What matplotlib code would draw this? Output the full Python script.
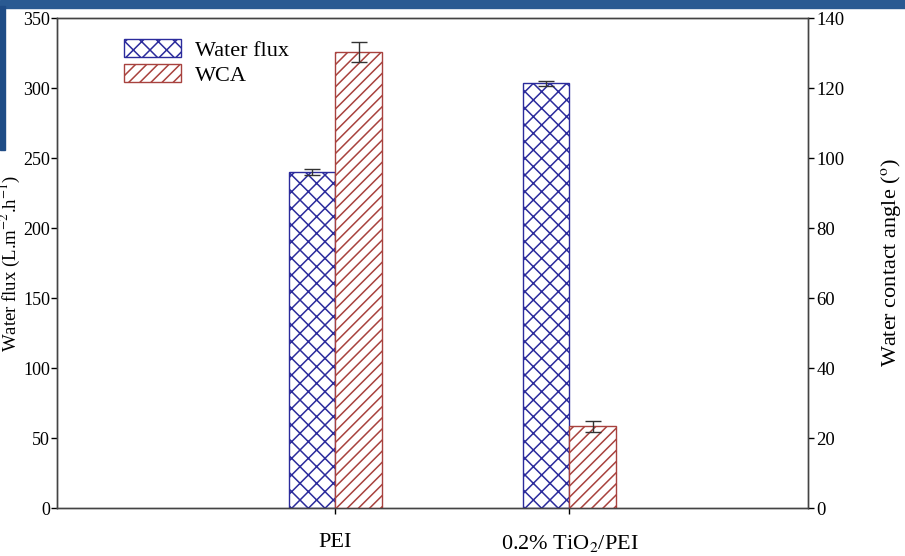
import matplotlib.pyplot as plt
import numpy as np
from matplotlib.patches import Rectangle

# data
categories = ['PEI', '0.2% TiO$_2$/PEI']
water_flux = [240, 303.5]
water_flux_err = [2.2, 1.8]
wca = [130.3, 23.3]
wca_err = [2.9, 1.5]

plt.rcParams['font.family'] = ['Liberation Serif', 'DejaVu Serif']
plt.rcParams['mathtext.fontset'] = 'stix'
plt.rcParams['hatch.linewidth'] = 1.1

blue = '#2b2b9c'
red = '#a8423e'

fig = plt.figure(figsize=(9.05, 5.56), dpi=100)

# slide background bits from the screenshot
fig.patches.append(Rectangle((0, 0.985), 1, 0.015, transform=fig.transFigure,
                             color='#2a5a92', zorder=0))
fig.patches.append(Rectangle((0, 0.73), 0.006, 0.26, transform=fig.transFigure,
                             color='#1f4c86', zorder=0))

ax = fig.add_axes([0.063, 0.0863, 0.83, 0.8813])
ax2 = ax.twinx()

x = np.arange(len(categories))
w = 0.197

ax.bar(x - w / 2, water_flux, w, yerr=water_flux_err, color='white', edgecolor=blue,
       hatch='xx', linewidth=1.0, label='Water flux',
       error_kw=dict(ecolor='#333333', elinewidth=1.0, capsize=5.5, capthick=1.0))
ax2.bar(x + w / 2, wca, w, yerr=wca_err, color='white', edgecolor=red,
        hatch='///', linewidth=1.0, label='WCA',
        error_kw=dict(ecolor='#333333', elinewidth=1.0, capsize=5.5, capthick=1.0))

ax.set_xlim(-1.19, 2.02)
ax.set_ylim(0, 350)
ax2.set_ylim(0, 140)
ax.set_yticks(np.arange(0, 351, 50))
ax2.set_yticks(np.arange(0, 141, 20))
ax.set_xticks(x)
ax.set_xticklabels(categories)

for a in (ax, ax2):
    a.tick_params(direction='out', length=4, width=1, labelsize=13.5, pad=2)
    for s in a.spines.values():
        s.set_linewidth(1.0)
        s.set_color('#444444')

ax.tick_params(axis='y', labelsize=13, pad=1)
ax.tick_params(axis='x', pad=14, labelsize=16)
ax.set_ylabel('Water flux (L.m$^{-2}$.h$^{-1}$)', fontsize=13.5)
ax2.set_ylabel('Water contact angle ($^{\\rm o}$)', fontsize=16)
ax.yaxis.set_label_coords(-0.046, 0.5)
ax2.yaxis.set_label_coords(1.094, 0.5)

h1, l1 = ax.get_legend_handles_labels()
h2, l2 = ax2.get_legend_handles_labels()
ax.legend(h1 + h2, l1 + l2, loc='upper left', bbox_to_anchor=(0.062, 0.997),
          frameon=False, fontsize=16, handlelength=2.6, handleheight=0.85,
          labelspacing=0.15, handletextpad=0.6)

plt.savefig('out.png', dpi=100)
plt.close()
